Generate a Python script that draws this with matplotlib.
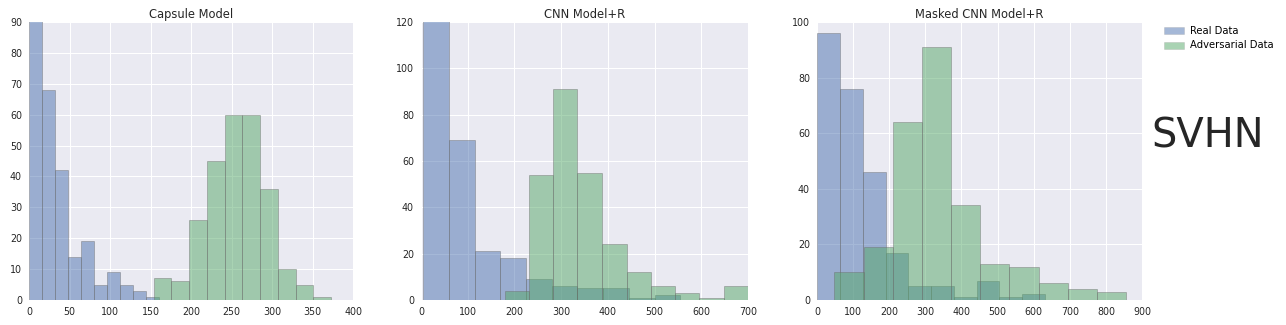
import numpy as np
import matplotlib
matplotlib.use("Agg")
import matplotlib.pyplot as plt
from matplotlib.patches import Patch

# bin edges and counts
titles = ["Capsule Model", "CNN Model+R", "Masked CNN Model+R"]

real_edges = [
    [0, 16.1, 32.2, 48.3, 64.4, 80.5, 96.6, 112.7, 128.8, 144.9, 161],
    [5, 60, 115, 170, 225, 280, 335, 390, 445, 500, 555],
    [1, 64, 127, 190, 253, 316, 379, 442, 505, 568, 632],
]
real_counts = [
    [105, 68, 42, 14, 19, 5, 9, 5, 3, 1],
    [150, 69, 21, 18, 9, 6, 5, 5, 1, 2],
    [96, 76, 46, 17, 5, 5, 1, 7, 1, 2],
]
adv_edges = [
    [154, 175.9, 197.8, 219.7, 241.6, 263.5, 285.4, 307.3, 329.2, 351.1, 373],
    [179, 231, 283, 335, 387, 440, 492, 544, 596, 648, 700],
    [48, 128.8, 209.6, 290.4, 371.2, 452, 532.8, 613.6, 694.4, 775.2, 856],
]
adv_counts = [
    [7, 6, 26, 45, 60, 60, 36, 10, 5, 1],
    [4, 54, 91, 55, 24, 12, 6, 3, 1, 6],
    [10, 19, 64, 91, 34, 13, 12, 6, 4, 3],
]
xlims = [(0, 400), (0, 700), (0, 900)]
ylims = [(0, 90), (0, 120), (0, 100)]
xsteps = [50, 100, 100]
ysteps = [10, 20, 20]

blue = "#4C72B0"
green = "#55A868"

W, H = 1286, 325
fig = plt.figure(figsize=(W / 72, H / 72), dpi=72)
fig.patch.set_facecolor("white")

lefts = [29, 421, 817]
widths = [324, 327, 325]
top, bottom = 22, 300

for i in range(3):
    ax = fig.add_axes([lefts[i] / W, 1 - bottom / H, widths[i] / W, (bottom - top) / H])
    ax.set_facecolor("#EAEAF2")
    ax.set_axisbelow(True)
    ax.grid(True, color="white", linewidth=1)
    for s in ax.spines.values():
        s.set_visible(False)

    e = np.array(real_edges[i])
    ax.bar(e[:-1], real_counts[i], width=np.diff(e), align="edge",
           color=blue, alpha=0.5, edgecolor="#6a6a6a", linewidth=0.8)
    e = np.array(adv_edges[i])
    ax.bar(e[:-1], adv_counts[i], width=np.diff(e), align="edge",
           color=green, alpha=0.5, edgecolor="#6a6a6a", linewidth=0.8)

    ax.set_xlim(*xlims[i])
    ax.set_ylim(*ylims[i])
    ax.set_xticks(np.arange(xlims[i][0], xlims[i][1] + 1, xsteps[i]))
    ax.set_yticks(np.arange(ylims[i][0], ylims[i][1] + 1, ysteps[i]))
    ax.tick_params(length=0, labelsize=9.5, labelcolor="#262626", pad=7)
    ax.set_title(titles[i], fontsize=11.5, color="#262626", pad=4)

handles = [Patch(facecolor=blue, alpha=0.5, edgecolor="#999999", linewidth=0.5),
           Patch(facecolor=green, alpha=0.5, edgecolor="#999999", linewidth=0.5)]
fig.legend(handles, ["Real Data", "Adversarial Data"], loc="upper left",
           bbox_to_anchor=(1155 / W, 1 - 17 / H), frameon=False, fontsize=10,
           handlelength=2.0, handleheight=0.7, handletextpad=0.6, labelspacing=0.45)

fig.text(1208 / W, 1 - 137 / H, "SVHN", fontsize=40, color="#262626",
         ha="center", va="center")

fig.savefig("out.png", dpi=72)
